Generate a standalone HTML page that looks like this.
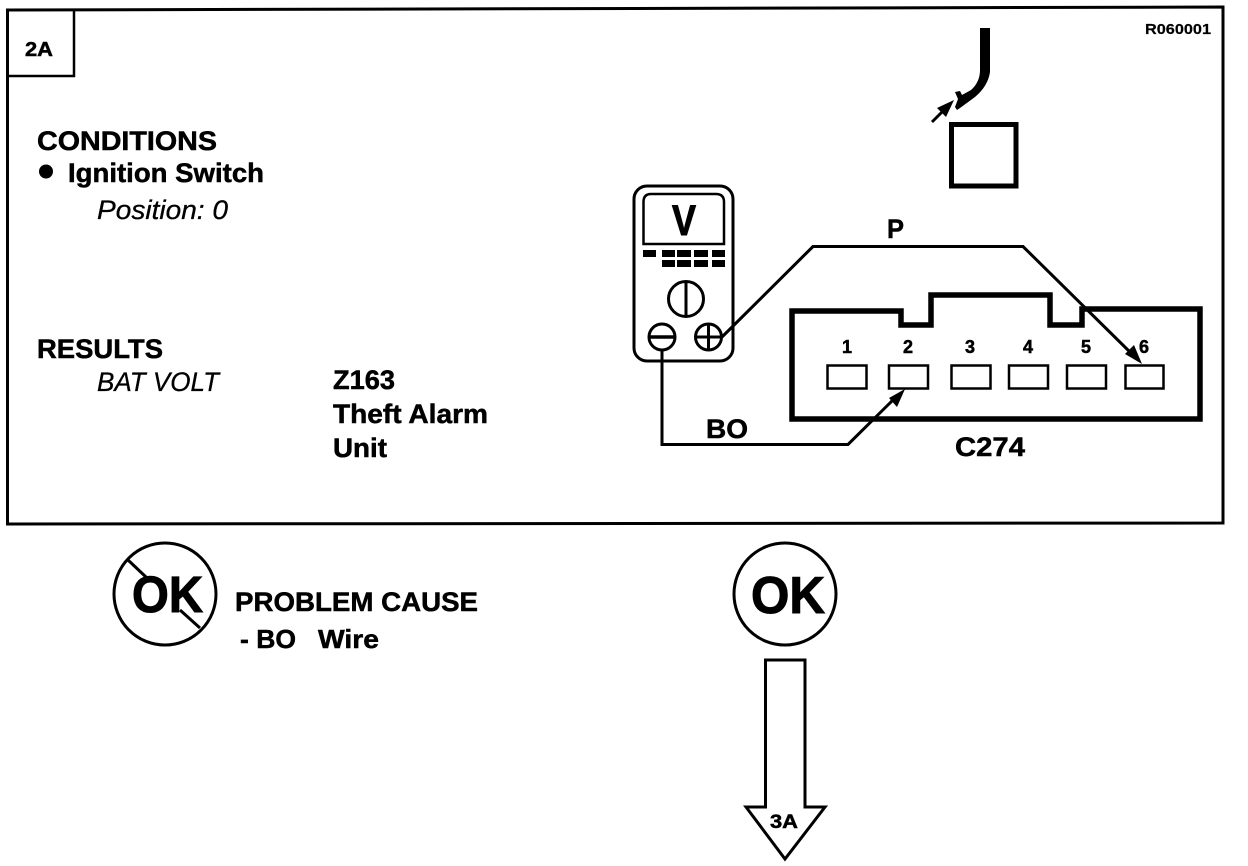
<!DOCTYPE html>
<html>
<head>
<meta charset="utf-8">
<style>
html,body{margin:0;padding:0;background:#fff;width:1248px;height:866px;overflow:hidden}
svg{display:block}
text{font-family:"Liberation Sans",sans-serif;font-weight:bold;fill:#000;stroke:#000;stroke-width:.5}
.i{font-style:italic;font-weight:normal;stroke-width:.3}
.l{fill:none;stroke:#000;stroke-linejoin:miter}
</style>
</head>
<body>
<svg width="1248" height="866" viewBox="0 0 1248 866" xmlns="http://www.w3.org/2000/svg">
<rect width="1248" height="866" fill="#fff"/>
<!-- frame -->
<polygon class="l" stroke-width="3" points="7.5,10 1223,7 1223,523 7.5,524"/>
<polyline class="l" stroke-width="2.5" points="74,10 74,76 7.5,76"/>
<text x="25" y="56" font-size="20" textLength="28" lengthAdjust="spacingAndGlyphs">2A</text>
<text x="1145" y="34" font-size="15" textLength="66" lengthAdjust="spacingAndGlyphs" style="stroke-width:.2">R060001</text>

<!-- left text -->
<text x="37" y="150" font-size="27" textLength="180" lengthAdjust="spacingAndGlyphs">CONDITIONS</text>
<circle cx="46" cy="171.500" r="7" fill="#000"/>
<text x="68" y="182" font-size="27" textLength="196" lengthAdjust="spacingAndGlyphs">Ignition Switch</text>
<text class="i" x="97" y="219" font-size="27" textLength="131" lengthAdjust="spacingAndGlyphs">Position: 0</text>
<text x="37" y="358" font-size="27" textLength="126" lengthAdjust="spacingAndGlyphs">RESULTS</text>
<text class="i" x="97" y="391" font-size="27" textLength="122" lengthAdjust="spacingAndGlyphs">BAT VOLT</text>
<text x="333" y="389" font-size="27" textLength="62" lengthAdjust="spacingAndGlyphs">Z163</text>
<text x="333" y="423" font-size="27" textLength="155" lengthAdjust="spacingAndGlyphs">Theft Alarm</text>
<text x="333" y="457" font-size="27" textLength="54" lengthAdjust="spacingAndGlyphs">Unit</text>

<!-- cable and test arrow -->
<path fill="#000" d="M980,28 L990,28 L990,72 Q988,86 975,97 L960,108 L957,110 L955,107 L958,99 L955,92 L960,91 L962,95 L971,90 Q980,82 980,70 Z"/>
<line class="l" x1="932" y1="122" x2="946" y2="108" stroke-width="3"/>
<polygon points="954,100 937,108 946,117" fill="#000"/>
<rect class="l" x="951.500" y="124.500" width="64.500" height="61.500" stroke-width="5"/>

<!-- meter -->
<rect class="l" x="634" y="186" width="99" height="175" rx="13" ry="13" stroke-width="3"/>
<path class="l" stroke-width="2.500" d="M643.500,244 L643.500,202 Q643.500,194 651,194 L716,194 Q724,194 724,202 L724,244 Z"/>
<text x="672" y="235" font-size="43" textLength="24" lengthAdjust="spacingAndGlyphs" style="stroke-width:1">V</text>
<g fill="#000">
<rect x="643" y="250" width="13" height="7"/>
<rect x="662" y="250" width="13" height="7"/>
<rect x="677" y="250" width="14" height="7"/>
<rect x="694" y="250" width="14" height="7"/>
<rect x="712" y="250" width="13" height="7"/>
<rect x="662" y="260" width="13" height="7"/>
<rect x="677" y="260" width="14" height="7"/>
<rect x="694" y="260" width="14" height="7"/>
<rect x="712" y="260" width="13" height="7"/>
</g>
<circle class="l" cx="686" cy="299" r="17.500" stroke-width="3"/>
<line class="l" x1="686" y1="281" x2="686" y2="317" stroke-width="3"/>
<circle class="l" cx="662" cy="337" r="13" stroke-width="3"/>
<line class="l" x1="650" y1="337" x2="674" y2="337" stroke-width="3.500"/>
<circle class="l" cx="708.500" cy="337" r="13" stroke-width="3"/>
<line class="l" x1="696" y1="337" x2="721" y2="337" stroke-width="3"/>
<line class="l" x1="708.500" y1="325" x2="708.500" y2="349" stroke-width="3"/>

<!-- connector -->
<path class="l" stroke-width="5.500" d="M792,311 L901,311 L901,325 L931,325 L931,295 L1050,295 L1050,325 L1082,325 L1082,309 L1200,309 L1200,419 L792,419 Z"/>
<g class="l" stroke-width="2.500" fill="none" stroke="#000">
<rect x="827.500" y="365.500" width="39" height="23"/>
<rect x="889" y="365.500" width="39" height="23"/>
<rect x="951.500" y="365.500" width="39" height="23"/>
<rect x="1009" y="365.500" width="39" height="23"/>
<rect x="1067" y="365.500" width="39" height="23"/>
<rect x="1125.500" y="365.500" width="38" height="23"/>
</g>
<g font-size="18" text-anchor="middle">
<text x="847" y="353">1</text>
<text x="908" y="353">2</text>
<text x="970" y="353">3</text>
<text x="1028" y="353">4</text>
<text x="1086" y="353">5</text>
<text x="1144" y="353">6</text>
</g>
<text x="955" y="456" font-size="27" textLength="70" lengthAdjust="spacingAndGlyphs">C274</text>

<!-- wires -->
<polyline class="l" stroke-width="3" points="722,337 813,246.500 1023,246.500 1133,355"/>
<polygon points="1142,364 1125,354 1134,345" fill="#000"/>
<polyline class="l" stroke-width="3" points="662,350 662,444.500 848,444.500 897,396"/>
<polygon points="905,389 889,398 897,407" fill="#000"/>
<text x="887" y="238" font-size="27" textLength="17" lengthAdjust="spacingAndGlyphs">P</text>
<text x="706" y="438" font-size="27" textLength="42" lengthAdjust="spacingAndGlyphs">BO</text>

<!-- not OK -->
<circle class="l" cx="165" cy="594" r="51" stroke-width="3"/>
<text x="132" y="612" font-size="51" textLength="71" lengthAdjust="spacingAndGlyphs" style="stroke-width:1">OK</text>
<line class="l" x1="128" y1="560" x2="147" y2="578" stroke-width="3"/>
<line class="l" x1="180" y1="610" x2="200" y2="628" stroke-width="3"/>
<text x="235" y="611" font-size="27" textLength="243" lengthAdjust="spacingAndGlyphs">PROBLEM CAUSE</text>
<text x="240" y="648" font-size="26" textLength="56" lengthAdjust="spacingAndGlyphs">- BO</text>
<text x="318" y="648" font-size="26" textLength="61" lengthAdjust="spacingAndGlyphs">Wire</text>

<!-- OK -->
<circle class="l" cx="785" cy="594" r="51" stroke-width="3"/>
<text x="751" y="613" font-size="52" textLength="74" lengthAdjust="spacingAndGlyphs" style="stroke-width:1">OK</text>

<!-- arrow -->
<polygon class="l" stroke-width="3" points="765.500,660 805,660 805,807 825,807 785,859 746,807 765.500,807"/>
<text x="770" y="828" font-size="19" textLength="28" lengthAdjust="spacingAndGlyphs">3A</text>
</svg>
</body>
</html>
